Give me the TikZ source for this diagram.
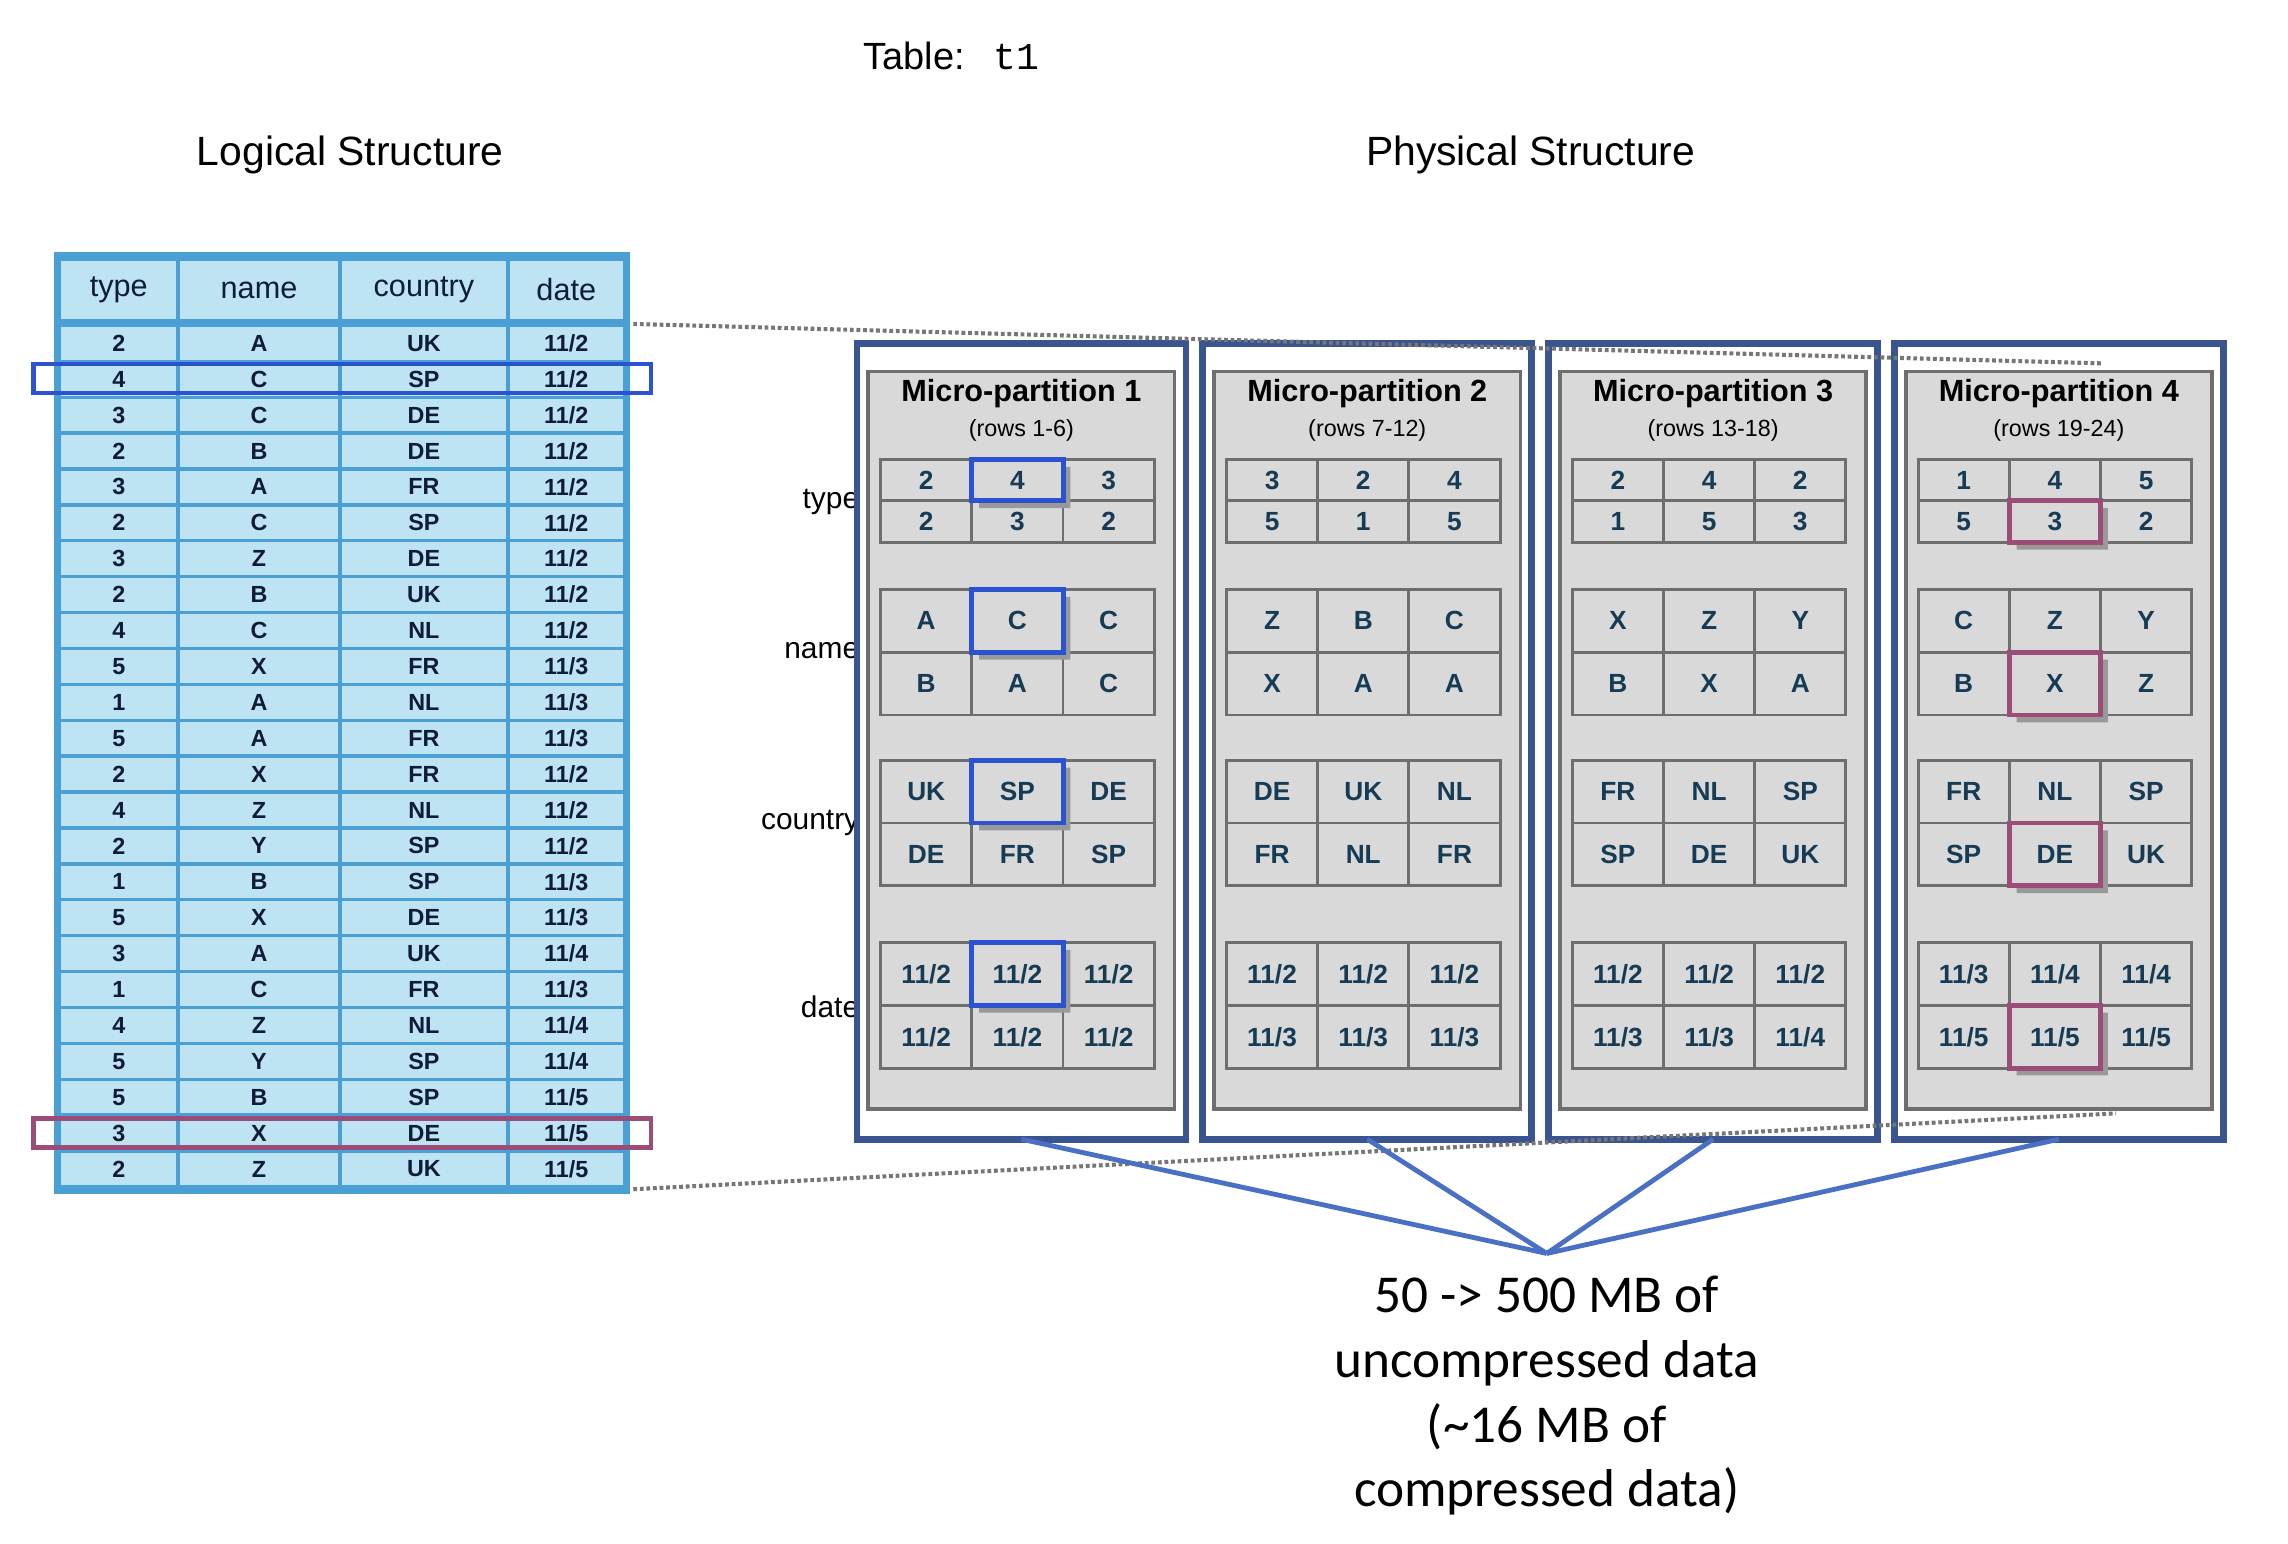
\documentclass[tikz,border=0pt]{standalone}
\usepackage{fontspec}
\setmainfont{Liberation Sans}
\newfontfamily\calib{Carlito}
\newfontfamily\monof{Liberation Mono}
\usetikzlibrary{calc}
\definecolor{tblue}{HTML}{4AA0D5}
\definecolor{tlight}{HTML}{BEE3F3}
\definecolor{ttext}{HTML}{0E1C3A}
\definecolor{fblue}{HTML}{3A5490}
\definecolor{gfill}{HTML}{D9D9D9}
\definecolor{gline}{HTML}{6E6E6E}
\definecolor{ctext}{HTML}{163C55}
\definecolor{hlblue}{HTML}{2B52CF}
\definecolor{hlmauve}{HTML}{9B4D77}
\definecolor{connc}{HTML}{4A70C5}
\definecolor{dotc}{HTML}{767676}
\definecolor{shadc}{HTML}{999999}
\tikzset{
  hcell/.style={fill=tlight, inner sep=0pt, outer sep=0pt, minimum height=39.5pt, text=ttext, font=\fontsize{21}{24}\selectfont},
  dcell/.style={fill=tlight, inner sep=0pt, outer sep=0pt, minimum height=22.3pt, text=ttext, font=\bfseries\fontsize{16}{18}\selectfont},
  sidelab/.style={anchor=east, inner sep=0pt, font=\fontsize{20.5}{23}\selectfont},
  frame/.style={draw=fblue, line width=4.6pt, fill=white, inner sep=0pt, outer sep=0pt, minimum width=225.4pt, minimum height=545.4pt},
  gbox/.style={draw=gline, line width=2.5pt, fill=gfill, inner sep=0pt, outer sep=0pt, minimum width=210pt, minimum height=505.5pt},
  mptitle/.style={inner sep=0pt, font=\bfseries\fontsize{21}{24}\selectfont},
  mprows/.style={inner sep=0pt, font=\fontsize{16}{18}\selectfont},
  mcell/.style={draw=gline, line width=2pt, fill=gfill, inner sep=0pt, outer sep=0pt, minimum width=62.5pt, text=ctext, font=\bfseries\fontsize{18}{20}\selectfont},
  shadowc/.style={fill=shadc},
  rowhl/.style={line width=3pt},
  conn/.style={draw=connc, line width=3.3pt},
  dotl/.style={draw=dotc, line width=2.8pt, dash pattern=on 2.6pt off 1.9pt},
}
\newcommand\mpgrid[7]{%
  \foreach \v [count=\j from 0] in {#4}{%
    \pgfmathtruncatemacro\cc{mod(\j,3)}%
    \pgfmathtruncatemacro\rr{div(\j,3)}%
    \pgfmathsetmacro\cx{#1+18.5+62.5*(\cc+0.5)}%
    \pgfmathsetmacro\cy{#2+#3*(\rr+0.5)}%
    \node[mcell, minimum height=#3pt] (#5\j) at (\cx,\cy) {\v};
  }%
  \ifnum#6>-1
  \fill[shadowc] ([shift={(0,5)}]#5#6.north east) -- ([shift={(5,5)}]#5#6.north east) -- ([shift={(5,5)}]#5#6.south east) -- ([shift={(5,5)}]#5#6.south west) -- ([shift={(5,0)}]#5#6.south west) -- (#5#6.south east) -- cycle;
  \draw[draw=#7, line width=3.4pt] (#5#6.south west) rectangle (#5#6.north east);
  \fi
}
\begin{document}
\begin{tikzpicture}[x=1pt,y=-1pt]
\useasboundingbox (0,0) rectangle (1568,1058);

% titles
\node[font=\fontsize{26}{30}\selectfont] (title) at (652,38) {Table:\hspace{20pt}{\monof t1}};
\node[font=\fontsize{28}{33}\selectfont] (logt) at (240,106) {Logical Structure};
\node[font=\fontsize{28}{33}\selectfont] (phyt) at (1049,106) {Physical Structure};

% logical table
\fill[tblue] (37,173) rectangle (432,818.5);
\foreach \cx/\w/\lab [count=\k] in {81.4/78.8/type, 177.5/108.6/name, 290.5/112.6/country, 388.1/77.8/date}
  \node[hcell, minimum width=\w pt] (h\k) at (\cx,198.75) {\lab};
\foreach \tp/\nm/\co/\dd [count=\i from 0] in {2/A/UK/2, 4/C/SP/2, 3/C/DE/2, 2/B/DE/2, 3/A/FR/2, 2/C/SP/2, 3/Z/DE/2, 2/B/UK/2, 4/C/NL/2, 5/X/FR/3, 1/A/NL/3, 5/A/FR/3, 2/X/FR/2, 4/Z/NL/2, 2/Y/SP/2, 1/B/SP/3, 5/X/DE/3, 3/A/UK/4, 1/C/FR/3, 4/Z/NL/4, 5/Y/SP/4, 5/B/SP/5, 3/X/DE/5, 2/Z/UK/5}{
  \pgfmathsetmacro\cy{223+(\i+0.5)*24.6}
  \node[dcell, minimum width=78.8pt] (r\i-1) at (81.4,\cy) {\tp};
  \node[dcell, minimum width=108.6pt] (r\i-2) at (177.5,\cy) {\nm};
  \node[dcell, minimum width=112.6pt] (r\i-3) at (290.5,\cy) {\co};
  \node[dcell, minimum width=77.8pt] (r\i-4) at (388.1,\cy) {11/\dd};
}
\draw[rowhl, draw=hlblue] (23,249.5) rectangle (446,269.5);
\draw[rowhl, draw=hlmauve] (23,766.5) rectangle (446,786.5);

% side labels
\node[sidelab] (ltype) at (589,344) {type};
\node[sidelab] (lname) at (589,446) {name};
\node[sidelab] (lcountry) at (589,564) {country};
\node[sidelab] (ldate) at (589,690) {date};

% micro-partitions
\foreach \k/\rows in {1/{1-6}, 2/{7-12}, 3/{13-18}, 4/{19-24}}{
  \pgfmathsetmacro\fx{700+237*(\k-1)}
  \node[frame] (f\k) at (\fx,508) {};
  \node[gbox] (g\k) at (\fx,507.25) {};
  \node[mptitle] (mt\k) at (\fx,269.5) {Micro-partition \k};
  \node[mprows] (mr\k) at (\fx,295) {(rows \rows)};
}
\mpgrid{585}{315}{28.3}{2,4,3,2,3,2}{pat}{1}{hlblue}
\mpgrid{585}{404}{43}{A,C,C,B,A,C}{pan}{1}{hlblue}
\mpgrid{585}{521}{43}{UK,SP,DE,DE,FR,SP}{pac}{1}{hlblue}
\mpgrid{585}{646}{43}{11/2,11/2,11/2,11/2,11/2,11/2}{pad}{1}{hlblue}

\mpgrid{822}{315}{28.3}{3,2,4,5,1,5}{pbt}{-1}{hlblue}
\mpgrid{822}{404}{43}{Z,B,C,X,A,A}{pbn}{-1}{hlblue}
\mpgrid{822}{521}{43}{DE,UK,NL,FR,NL,FR}{pbc}{-1}{hlblue}
\mpgrid{822}{646}{43}{11/2,11/2,11/2,11/3,11/3,11/3}{pbd}{-1}{hlblue}

\mpgrid{1059}{315}{28.3}{2,4,2,1,5,3}{pct}{-1}{hlblue}
\mpgrid{1059}{404}{43}{X,Z,Y,B,X,A}{pcn}{-1}{hlblue}
\mpgrid{1059}{521}{43}{FR,NL,SP,SP,DE,UK}{pcc}{-1}{hlblue}
\mpgrid{1059}{646}{43}{11/2,11/2,11/2,11/3,11/3,11/4}{pcd}{-1}{hlblue}

\mpgrid{1296}{315}{28.3}{1,4,5,5,3,2}{pdt}{4}{hlmauve}
\mpgrid{1296}{404}{43}{C,Z,Y,B,X,Z}{pdn}{4}{hlmauve}
\mpgrid{1296}{521}{43}{FR,NL,SP,SP,DE,UK}{pdc}{4}{hlmauve}
\mpgrid{1296}{646}{43}{11/3,11/4,11/4,11/5,11/5,11/5}{pdd}{4}{hlmauve}

% dotted zoom lines
\coordinate (dt1) at (434,222);
\coordinate (dt2) at (1440,249);
\coordinate (db1) at (434,815);
\coordinate (db2) at (1450,763);
\draw[dotl] (dt1) -- (dt2);
\draw[dotl] (db1) -- (db2);

% connectors
\coordinate (conv) at (1060,859);
\foreach \k in {1,...,4} \draw[conn] (f\k.south) -- (conv);

\node[align=center, font=\calib\fontsize{36.5}{44.3}\selectfont] (cap) at (1060,956.5) {50 -> 500 MB of\\uncompressed data\\(\textasciitilde 16 MB of\\compressed data)};
\end{tikzpicture}
\end{document}
